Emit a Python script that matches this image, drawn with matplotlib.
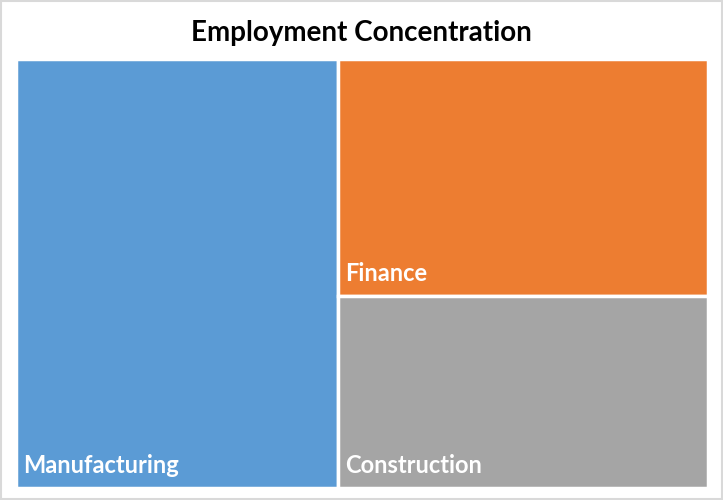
import matplotlib.pyplot as plt
from matplotlib.patches import Rectangle

labels = ['Manufacturing', 'Finance', 'Construction']
values = [46.5, 29.5, 24.0]
colors = ['#5b9bd5', '#ed7d31', '#a5a5a5']

plt.rcParams['font.family'] = ['Lato', 'DejaVu Sans']

fig = plt.figure(figsize=(7.23, 5.0), dpi=100)
W, H = 723.0, 500.0
ax = fig.add_axes([16 / W, 1 - 488 / H, (708 - 16) / W, (488 - 59) / H])
ax.set_xlim(0, 1)
ax.set_ylim(0, 1)
ax.axis('off')

# slice layout: first item takes a full-height column, rest are stacked
total = sum(values)
w0 = values[0] / total
rest = sum(values[1:])
rects = [(0, 0, w0, 1)]
top = 1.0
for v in values[1:]:
    h = v / rest
    rects.append((w0, top - h, 1 - w0, h))
    top -= h

for (x, y, w, h), lab, c in zip(rects, labels, colors):
    ax.add_patch(Rectangle((x, y), w, h, facecolor=c, edgecolor='white', linewidth=2.5))
    ax.text(x + 0.010, y + 0.035, lab, color='white', fontsize=17, fontweight='bold',
            ha='left', va='baseline')

fig.text(0.5, 1 - 41 / H, 'Employment Concentration', ha='center', va='baseline',
         fontsize=20, fontweight='bold', color='black')

# light frame around the chart
fig.add_artist(Rectangle((0.002, 0.002), 0.996, 0.996, transform=fig.transFigure,
                         fill=False, edgecolor='#d9d9d9', linewidth=1.5))

fig.savefig('out.png', dpi=100)
